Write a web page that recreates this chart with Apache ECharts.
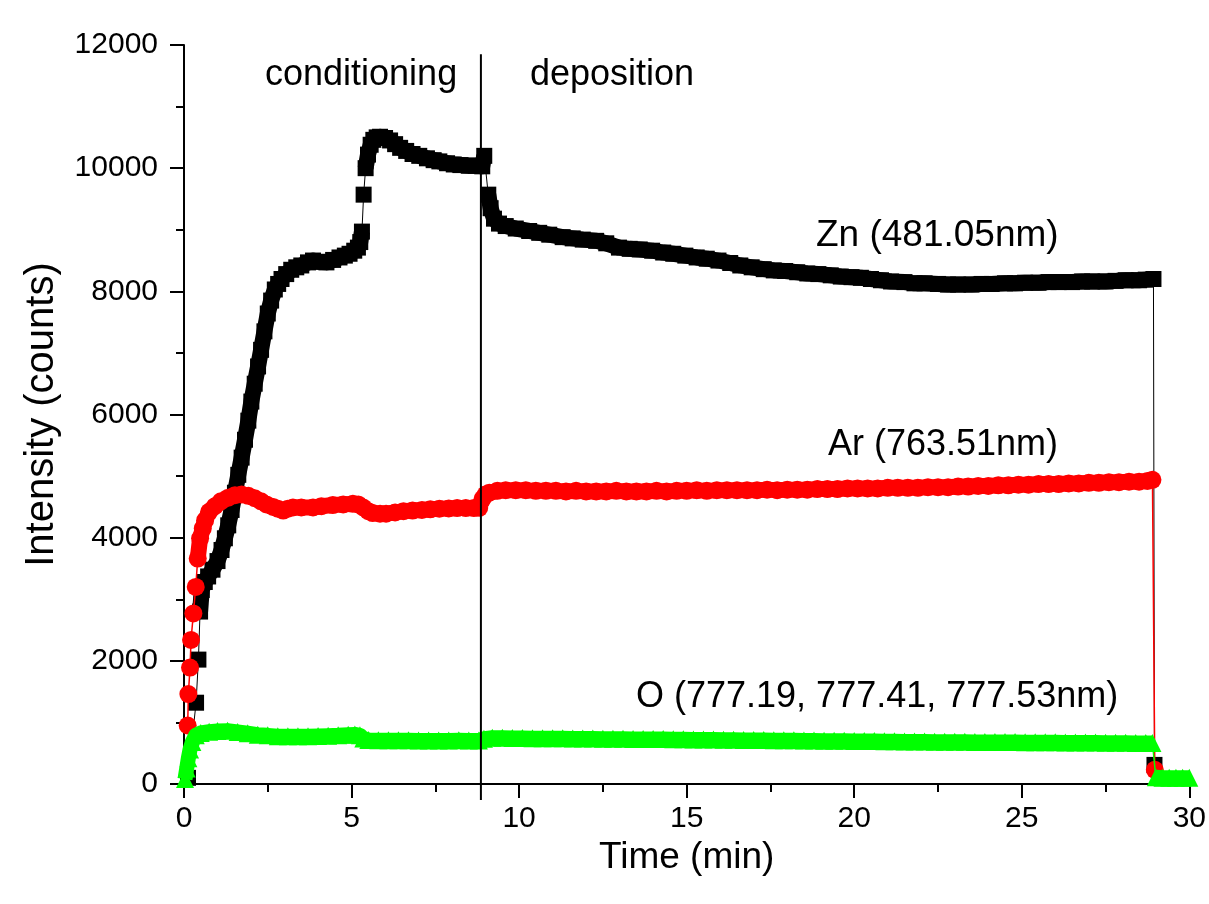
<!DOCTYPE html>
<html>
<head>
<meta charset="utf-8">
<script src="https://cdn.jsdelivr.net/npm/echarts@6/dist/echarts.min.js"></script>
<style>
html,body{margin:0;padding:0;background:#fff;}
#chart{width:1209px;height:904px;}
</style>
</head>
<body>
<div id="chart"></div>
<script>
// ---- Data (time in min, intensity in counts) ----
const znTime = [0.12,0.36,0.43,0.48,0.53,0.62,0.72,0.85,1.0,1.12,1.22,1.32,1.42,1.52,1.62,1.72,1.82,1.92,2.01,2.11,2.21,2.3,2.4,2.5,2.6,2.71,2.81,2.91,3.05,3.2,3.35,3.5,3.7,3.85,4.0,4.25,4.45,4.64,4.8,4.94,5.08,5.19,5.26,5.31,5.36,5.42,5.49,5.57,5.65,5.75,5.85,6.0,6.15,6.3,6.45,6.63,6.82,7.02,7.25,7.45,7.62,7.85,8.05,8.25,8.5,8.71,8.9,8.96,9.08,9.15,9.25,9.4,9.6,9.9,10.3,10.6,10.9,11.3,11.6,11.9,12.3,12.6,12.98,13.3,13.6,13.97,14.3,14.6,14.96,15.3,15.6,15.95,16.3,16.6,16.94,17.3,17.6,17.94,18.3,18.6,18.93,19.3,19.6,19.92,20.2,20.5,20.8,21.1,21.5,21.8,22.1,22.5,22.8,23.1,23.5,23.8,24.1,24.5,24.8,25.1,25.5,25.8,26.1,26.5,26.8,27.1,27.5,27.8,28.1,28.5,28.7,28.93,28.96];
const znValue = [100,1320,2020,2800,3150,3280,3370,3480,3620,3800,3990,4200,4450,4730,5020,5300,5590,5900,6210,6500,6780,7050,7350,7640,7850,8030,8120,8200,8280,8350,8390,8420,8470,8500,8480,8470,8510,8550,8580,8610,8660,8710,8800,8970,9570,10000,10220,10380,10460,10500,10510,10490,10450,10390,10330,10280,10230,10200,10160,10130,10110,10080,10060,10050,10040,10040,10030,10200,9570,9350,9180,9100,9060,9020,8980,8950,8920,8880,8860,8840,8820,8780,8710,8690,8680,8660,8630,8610,8580,8550,8530,8500,8460,8420,8390,8360,8340,8330,8310,8290,8280,8260,8240,8230,8220,8200,8180,8160,8150,8130,8130,8120,8110,8110,8110,8120,8120,8130,8130,8140,8140,8150,8150,8150,8160,8160,8160,8170,8180,8180,8190,8200,310];

const arTime = [0.11,0.13,0.18,0.21,0.28,0.35,0.41,0.48,0.56,0.63,0.75,0.92,1.1,1.32,1.52,1.72,1.92,2.11,2.3,2.46,2.66,2.8,2.96,3.1,3.25,3.5,3.85,4.1,4.44,4.75,5.04,5.2,5.35,5.5,5.63,5.85,6.03,6.3,6.55,6.82,7.1,7.35,7.62,7.9,8.15,8.41,8.65,8.81,8.91,9.0,9.11,9.35,9.6,9.9,10.2,10.5,10.8,11.1,11.4,11.7,12.0,12.3,12.6,12.9,13.2,13.5,13.8,14.1,14.4,14.7,15.0,15.3,15.6,15.9,16.2,16.5,16.8,17.1,17.4,17.7,18.0,18.3,18.6,18.9,19.2,19.5,19.8,20.1,20.4,20.7,21.0,21.3,21.6,21.9,22.2,22.5,22.8,23.1,23.4,23.7,24.0,24.3,24.6,24.9,25.2,25.5,25.8,26.1,26.4,26.7,27.0,27.3,27.6,27.9,28.2,28.5,28.75,28.9,28.97];
const arValue = [950,1460,1890,2340,2770,3200,3660,3990,4150,4280,4420,4510,4590,4650,4690,4700,4680,4640,4590,4540,4500,4470,4440,4470,4490,4490,4490,4510,4530,4540,4550,4540,4490,4430,4400,4390,4390,4410,4430,4440,4450,4460,4470,4475,4480,4480,4480,4485,4630,4700,4730,4760,4770,4770,4770,4760,4760,4760,4750,4760,4750,4750,4750,4760,4750,4750,4750,4760,4750,4760,4760,4770,4760,4770,4770,4770,4770,4770,4780,4770,4780,4780,4780,4790,4790,4790,4800,4800,4800,4800,4810,4810,4810,4810,4820,4820,4820,4830,4830,4840,4840,4850,4850,4860,4860,4870,4870,4870,4880,4880,4890,4890,4900,4900,4910,4910,4920,4940,230];

const oTime = [0.03,0.08,0.13,0.18,0.25,0.35,0.5,0.75,1.0,1.3,1.6,1.9,2.2,2.5,2.8,3.1,3.4,3.7,4.0,4.3,4.6,4.9,5.1,5.25,5.35,5.5,5.8,6.1,6.4,6.7,7.0,7.3,7.6,7.9,8.2,8.5,8.8,8.95,9.2,9.5,9.8,10.1,10.4,10.7,11.0,11.3,11.6,11.9,12.2,12.5,12.8,13.1,13.4,13.7,14.0,14.3,14.6,14.9,15.2,15.5,15.8,16.1,16.4,16.7,17.0,17.3,17.6,17.9,18.2,18.5,18.8,19.1,19.4,19.7,20.0,20.3,20.6,20.9,21.2,21.5,21.8,22.1,22.4,22.7,23.0,23.3,23.6,23.9,24.2,24.5,24.8,25.1,25.4,25.7,26.0,26.3,26.6,26.9,27.2,27.5,27.8,28.1,28.4,28.7,28.9,29.0,29.2,29.4,29.6,29.8,30.0];
const oValue = [80,250,420,560,680,790,830,850,860,865,845,825,800,790,775,775,775,775,780,785,790,800,805,790,740,715,710,710,710,710,705,705,705,705,710,705,705,735,750,750,745,745,744,743,742,741,740,739,738,736,735,734,732,731,730,729,727,726,724,722,721,719,718,716,715,713,712,710,709,707,706,704,703,701,700,698,697,695,693,692,691,690,688,687,686,685,684,683,682,681,680,679,678,677,676,675,674,673,672,670,669,668,667,666,665,110,100,100,100,100,100];

// boundary between conditioning and deposition
const dividerTime = [8.86, 8.86];
const dividerValue = [-260, 11850];

const xTicks = {min: 0, max: 30, interval: 5};
const yTicks = {min: 0, max: 12000, interval: 2000};

const zip = (t, v) => t.map((x, i) => [x, v[i]]);

const chart = echarts.init(document.getElementById('chart'), null, {renderer: 'canvas'});
const FONT = '"Liberation Sans", Arial, sans-serif';

const axisCommon = {
  axisLine: {show: true, onZero: false, lineStyle: {color: '#000', width: 2}},
  axisTick: {show: true, inside: false, length: 14, lineStyle: {color: '#000', width: 2}},
  minorTick: {show: true, splitNumber: 2, length: 8, lineStyle: {color: '#000', width: 2}},
  splitLine: {show: false}
};

const markerSeries = [
  {
    name: 'Zn (481.05nm)', type: 'line', data: zip(znTime, znValue), z: 3,
    symbol: 'rect', symbolSize: 16, showSymbol: true, showAllSymbol: true,
    itemStyle: {color: '#000000'}, lineStyle: {color: '#000000', width: 1}
  },
  {
    name: 'Ar (763.51nm)', type: 'line', data: zip(arTime, arValue), z: 5,
    symbol: 'circle', symbolSize: 18, showSymbol: true, showAllSymbol: true,
    itemStyle: {color: '#ff0000'}, lineStyle: {color: '#ff0000', width: 1.5}
  },
  {
    name: 'O (777.19, 777.41, 777.53nm)', type: 'line', data: zip(oTime, oValue), z: 7,
    symbol: 'triangle', symbolSize: 18, showSymbol: true, showAllSymbol: true,
    itemStyle: {color: '#00ff00'}, lineStyle: {color: '#00ff00', width: 1.5}
  },
  {
    name: 'divider', type: 'line', data: zip(dividerTime, dividerValue), z: 8,
    symbol: 'none', clip: false, silent: true,
    lineStyle: {color: '#000000', width: 2}
  }
];

chart.setOption({
  animation: false,
  backgroundColor: '#ffffff',
  grid: {left: 184, right: 17, top: 45, bottom: 120, containLabel: false},
  xAxis: Object.assign({
    type: 'value', min: xTicks.min, max: xTicks.max, interval: xTicks.interval,
    name: 'Time (min)', nameLocation: 'middle', nameGap: 45,
    nameTextStyle: {fontFamily: FONT, fontSize: 37, color: '#000'},
    axisLabel: {fontFamily: FONT, fontSize: 30, color: '#000', margin: 20}
  }, axisCommon),
  yAxis: Object.assign({
    type: 'value', min: yTicks.min, max: yTicks.max, interval: yTicks.interval,
    name: 'Intensity (counts)', nameLocation: 'middle', nameGap: 122,
    nameTextStyle: {fontFamily: FONT, fontSize: 40, color: '#000'},
    axisLabel: {fontFamily: FONT, fontSize: 30, color: '#000', margin: 26, formatter: v => String(v)}
  }, axisCommon),
  series: markerSeries,
  graphic: [
    {type: 'text', x: 265, y: 75, style: {text: 'conditioning', font: '36px ' + FONT, fill: '#000', verticalAlign: 'middle'}},
    {type: 'text', x: 530, y: 75, style: {text: 'deposition', font: '36px ' + FONT, fill: '#000', verticalAlign: 'middle'}},
    {type: 'text', x: 816, y: 236, style: {text: 'Zn (481.05nm)', font: '37px ' + FONT, fill: '#000', verticalAlign: 'middle'}},
    {type: 'text', x: 828, y: 445, style: {text: 'Ar (763.51nm)', font: '36px ' + FONT, fill: '#000', verticalAlign: 'middle'}},
    {type: 'text', x: 636, y: 697, style: {text: 'O (777.19, 777.41, 777.53nm)', font: '36px ' + FONT, fill: '#000', verticalAlign: 'middle'}}
  ]
});

// Dense-marker look: a thick band under each series, broken where the
// sampled points are far apart on screen (isolated markers on steep jumps).
function bandData(t, v, gapPx) {
  const out = [];
  let prev = null;
  t.forEach((x, i) => {
    const p = chart.convertToPixel({gridIndex: 0}, [x, v[i]]);
    if (prev && Math.hypot(p[0] - prev[0], p[1] - prev[1]) > gapPx) out.push([x, null]);
    out.push([x, v[i]]);
    prev = p;
  });
  return out;
}
const bandOf = (name, t, v, color, width, z) => ({
  name: name + ' band', type: 'line', data: bandData(t, v, 25), z: z, silent: true,
  symbol: 'none', connectNulls: false,
  lineStyle: {color: color, width: width, cap: 'butt', join: 'round'}
});

chart.setOption({
  series: markerSeries.concat([
    bandOf('Zn', znTime, znValue, '#000000', 16, 2),
    bandOf('Ar', arTime, arValue, '#ff0000', 16, 4),
    bandOf('O', oTime, oValue, '#00ff00', 15, 6)
  ])
});
</script>
</body>
</html>
